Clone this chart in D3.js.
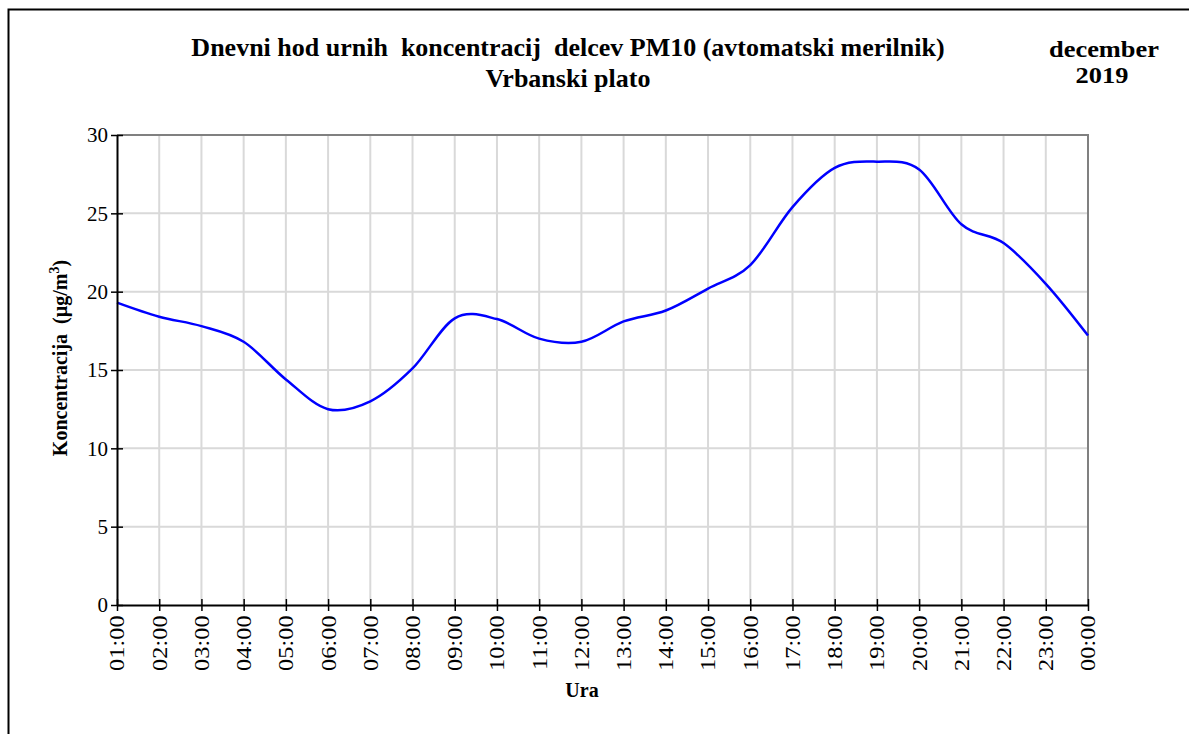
<!DOCTYPE html>
<html>
<head>
<meta charset="utf-8">
<script src="https://cdn.jsdelivr.net/npm/d3@7"></script>
<style>
  body { margin: 0; background: #fff; }
  svg { display: block; }
  text { white-space: pre; }
</style>
</head>
<body>
<div id="chart"></div>
<script>
//hour labels on x axis
var hours = ["01:00", "02:00", "03:00", "04:00", "05:00", "06:00", "07:00", "08:00",
  "09:00", "10:00", "11:00", "12:00", "13:00", "14:00", "15:00", "16:00",
  "17:00", "18:00", "19:00", "20:00", "21:00", "22:00", "23:00", "00:00"];

//average PM10 concentration per hour
var concentration = [19.3, 18.4, 17.8, 16.8, 14.4, 12.5, 13.0, 15.1,
  18.3, 18.25, 17.0, 16.8, 18.1, 18.8, 20.2, 21.7,
  25.4, 27.9, 28.3, 27.8, 24.3, 23.1, 20.5, 17.2];

var yTicks = [0, 5, 10, 15, 20, 25, 30];

function init() {
  var w = 1189;
  var h = 734;
  var left = 117, right = 1088, top = 135, bottom = 605;
  var font = "'Liberation Serif', 'Times New Roman', serif";

  var svg = d3.select("#chart").append("svg").attr("width", w).attr("height", h);

  //outer frame (runs off canvas on right and bottom)
  svg.append("rect")
    .attr("x", 8.5).attr("y", 9.5)
    .attr("width", w + 20).attr("height", h + 20)
    .attr("fill", "none").attr("stroke", "#000").attr("stroke-width", 2);

  var xScale = d3.scalePoint().domain(hours).range([left, right]);
  var yScale = d3.scaleLinear().domain([0, 30]).range([bottom, top]);

  //vertical grid lines
  svg.append("g")
    .selectAll("line")
    .data(hours.slice(1, -1))
    .enter()
    .append("line")
    .attr("x1", function (d) { return xScale(d); })
    .attr("x2", function (d) { return xScale(d); })
    .attr("y1", top).attr("y2", bottom)
    .attr("stroke", "#d9d9d9").attr("stroke-width", 2);

  //horizontal grid lines
  svg.append("g")
    .selectAll("line")
    .data(yTicks.slice(1, -1))
    .enter()
    .append("line")
    .attr("x1", left).attr("x2", right)
    .attr("y1", function (d) { return yScale(d); })
    .attr("y2", function (d) { return yScale(d); })
    .attr("stroke", "#d9d9d9").attr("stroke-width", 2);

  //top and right border of plot area
  svg.append("path")
    .attr("d", "M" + left + "," + top + "H" + right + "V" + bottom)
    .attr("fill", "none").attr("stroke", "#808080").attr("stroke-width", 2);

  //data line
  var line = d3.line()
    .x(function (d, i) { return xScale(hours[i]); })
    .y(function (d) { return yScale(d); })
    .curve(d3.curveCardinal.tension(0));

  svg.append("path")
    .datum(concentration)
    .attr("d", line)
    .attr("fill", "none")
    .attr("stroke", "#0000ff")
    .attr("stroke-width", 2.5);

  //y axis
  var yAxis = d3.axisLeft(yScale).tickValues(yTicks).tickSizeOuter(0);
  var gy = svg.append("g").attr("transform", "translate(" + left + ",0)").call(yAxis);
  gy.select(".domain").attr("stroke", "#000").attr("stroke-width", 2);
  gy.selectAll(".tick line").attr("x1", -6).attr("x2", 6).attr("stroke", "#000").attr("stroke-width", 1.5);
  gy.selectAll(".tick text")
    .attr("x", -9).attr("dy", "0.33em")
    .style("font-family", font)
    .style("font-size", "21px").attr("fill", "#000");

  //x axis, labels rotated and a bit stretched along their length
  var xAxis = d3.axisBottom(xScale).tickSizeOuter(0);
  var gx = svg.append("g").attr("transform", "translate(0," + bottom + ")").call(xAxis);
  gx.select(".domain").attr("stroke", "#000").attr("stroke-width", 2);
  gx.selectAll(".tick line").attr("y1", -6).attr("y2", 6).attr("stroke", "#000").attr("stroke-width", 1.5);
  gx.selectAll(".tick text")
    .attr("transform", "rotate(-90) scale(1.16,1)")
    .attr("x", -9).attr("y", 0).attr("dy", "0.33em")
    .attr("text-anchor", "end")
    .style("font-family", font)
    .style("font-size", "21px").attr("fill", "#000");

  //title
  svg.append("text")
    .attr("x", 568).attr("y", 56)
    .attr("text-anchor", "middle")
    .style("font-family", font).style("font-weight", "bold").style("font-size", "26px")
    .text("Dnevni hod urnih  koncentracij  delcev PM10 (avtomatski merilnik)");
  svg.append("text")
    .attr("x", 568).attr("y", 87)
    .attr("text-anchor", "middle")
    .style("font-family", font).style("font-weight", "bold").style("font-size", "26px")
    .text("Vrbanski plato");

  //month label
  svg.append("text")
    .attr("transform", "translate(1104,57) scale(1.1,1)")
    .attr("text-anchor", "middle")
    .style("font-family", font).style("font-weight", "bold").style("font-size", "24px")
    .text("december");
  svg.append("text")
    .attr("transform", "translate(1102,83) scale(1.1,1)")
    .attr("text-anchor", "middle")
    .style("font-family", font).style("font-weight", "bold").style("font-size", "24px")
    .text("2019");

  //x axis title
  svg.append("text")
    .attr("x", 582).attr("y", 697)
    .attr("text-anchor", "middle")
    .style("font-family", font).style("font-weight", "bold").style("font-size", "20px")
    .text("Ura");

  //y axis title
  var yt = svg.append("text")
    .attr("transform", "rotate(-90)")
    .attr("x", -358).attr("y", 67)
    .attr("text-anchor", "middle")
    .style("font-family", font).style("font-weight", "bold").style("font-size", "20px");
  yt.append("tspan").text("Koncentracija  (\u00b5g/m");
  yt.append("tspan").attr("dy", -8).style("font-size", "14px").text("3");
  yt.append("tspan").attr("dy", 8).text(")");
}

window.onload = init;
</script>
</body>
</html>
